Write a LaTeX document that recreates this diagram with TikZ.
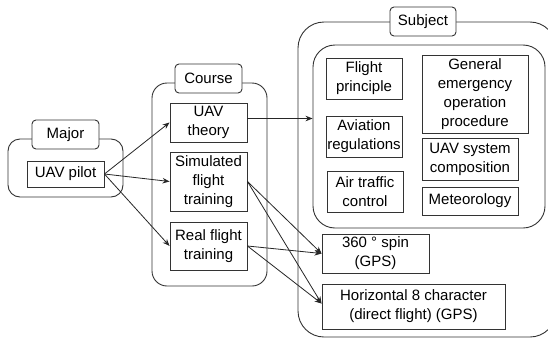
\documentclass[tikz,border=0pt]{standalone}
\usepackage{fontspec}
\setmainfont{Liberation Sans}
\usetikzlibrary{arrows.meta}
\tikzset{
  ink/.style={draw=black!80, line width=0.9pt},
  group/.style={ink, rounded corners=#1},
  tag/.style={ink, fill=white, rounded corners=4pt, inner sep=0pt, align=center},
  item/.style={ink, fill=white, inner sep=0pt, align=center},
  link/.style={draw=black!85, line width=0.8pt, -{Stealth[length=7pt,width=5.5pt]}},
}
\begin{document}
\begin{tikzpicture}[x=1pt,y=-1pt,font=\fontsize{15}{19}\selectfont]
\useasboundingbox (0,0) rectangle (548,340);
\clip (0,0) rectangle (548,340);
\fill[white] (0,0) rectangle (548,340);

% containers
\draw[group=12pt] (8,139) rectangle (123,197);
\draw[group=15pt] (152,83) rectangle (267,286);
\draw[group=26pt] (298,22) rectangle (556,337);
\node[group=22pt, minimum width=232pt, minimum height=183pt, inner sep=0pt] (inner) at (429,136.5) {};

% container labels
\node[tag, minimum width=67pt, minimum height=29pt] (major) at (65.5,134.5) {Major};
\node[tag, minimum width=67pt, minimum height=29pt] (course) at (208.5,78.5) {Course};
\node[tag, minimum width=66pt, minimum height=29pt] (subject) at (423,21.5) {Subject};

% major
\node[item, minimum width=77pt, minimum height=26pt] (pilot) at (65.5,174) {UAV pilot};

% courses
\node[item, minimum width=77pt, minimum height=39pt] (theory) at (208.5,122.5) {UAV\\theory};
\node[item, minimum width=77pt, minimum height=59pt] (sim) at (208.5,181.5) {Simulated\\flight\\training};
\node[item, minimum width=77pt, minimum height=48pt] (real) at (208.5,246) {Real flight\\training};

% subjects
\node[item, minimum width=76pt, minimum height=41pt] (fp) at (364,78.5) {Flight\\principle};
\node[item, minimum width=76pt, minimum height=41pt] (ar) at (364,136.5) {Aviation\\regulations};
\node[item, minimum width=76pt, minimum height=41pt] (atc) at (365,191.5) {Air traffic\\control};
\node[item, minimum width=106pt, minimum height=78pt] (gen) at (475,94) {General\\emergency\\operation\\procedure};
\node[item, minimum width=96pt, minimum height=42pt] (sys) at (470,159) {UAV system\\composition};
\node[item, minimum width=96pt, minimum height=28pt] (met) at (470,201) {Meteorology};
\node[item, minimum width=107pt, minimum height=39pt] (spin) at (375.5,253.5) {360 ° spin\\(GPS)};
\node[item, minimum width=183pt, minimum height=45pt] (horiz) at (413.5,306.5) {Horizontal 8 character\\(direct flight) (GPS)};

% connectors
\draw[link] (pilot.east) -- (theory.west);
\draw[link] (pilot.east) -- (sim.west);
\draw[link] (pilot.east) -- (real.west);
\coordinate (t0) at ([yshift=4pt]theory.east);
\draw[link] (t0) -- (t0 -| inner.west);
\draw[link] (sim.east) -- (spin.west);
\draw[link] (sim.east) -- ([yshift=3pt]horiz.west);
\draw[link] (real.east) -- (spin.west);
\draw[link] (real.east) -- ([yshift=3pt]horiz.west);
\end{tikzpicture}
\end{document}
